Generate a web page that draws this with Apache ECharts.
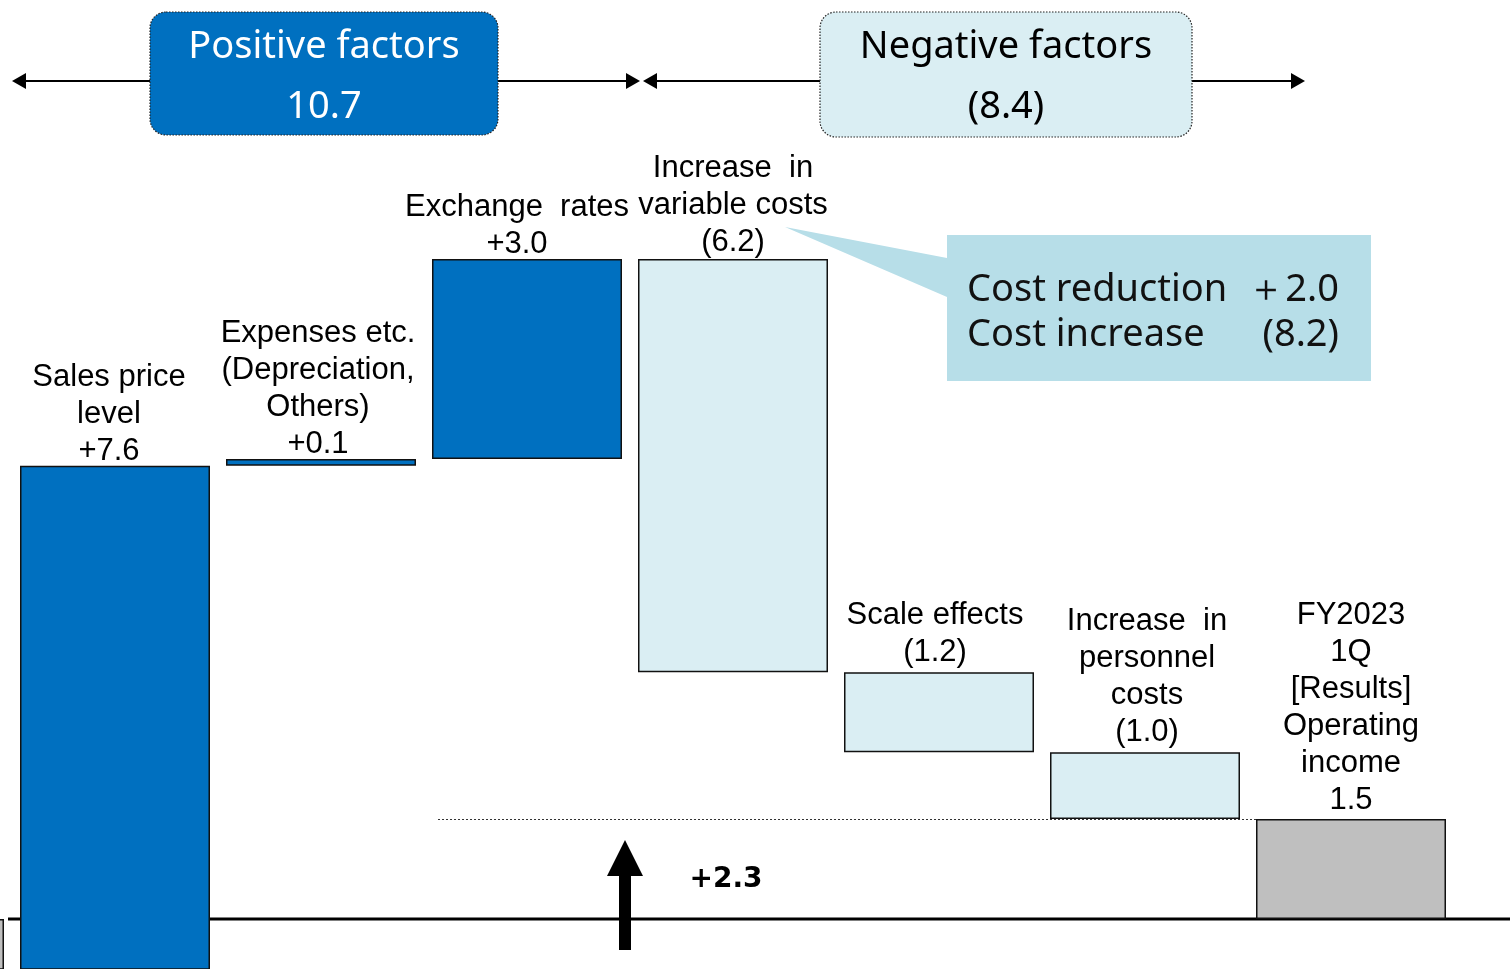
<!DOCTYPE html>
<html>
<head>
<meta charset="utf-8">
<script src="https://cdn.jsdelivr.net/npm/echarts@6/dist/echarts.min.js"></script>
<style>
  html, body { margin: 0; padding: 0; background: #fff; }
  #chart { width: 1510px; height: 969px; }
</style>
</head>
<body>
<div id="chart"></div>
<script>
// data (billion yen)
const categories = ['FY2022 1Q', 'Sales price level', 'Expenses etc.', 'Exchange rates',
  'Increase in variable costs', 'Scale effects', 'Increase in personnel costs', 'FY2023 1Q'];
const startValue = -0.8;
const changes = [7.6, 0.1, 3.0, -6.2, -1.2, -1.0];
const endValue = 1.5;
const labelNames = ['', 'Sales price\nlevel', 'Expenses etc.\n(Depreciation,\nOthers)', 'Exchange  rates',
  'Increase  in\nvariable costs', 'Scale effects', 'Increase  in\npersonnel\ncosts',
  'FY2023\n1Q\n[Results]\nOperating\nincome'];
const positiveTotal = 10.7;
const negativeTotal = -8.4;
const costReduction = 2.0;
const costIncrease = -8.2;
const netChange = 2.3;

const BLUE = '#0070C0', LIGHT = '#DAEEF3', GRAY = '#BFBFBF', EDGE = '#111';
// small nudges so the labels sit like the slide text boxes
const labelOffsets = [[0, 0], [-6, 5], [-3, 5], [-10, 5], [0, 3], [-4, 0], [2, 0], [0, 1]];

function fmt(v) { return v < 0 ? '(' + Math.abs(v).toFixed(1) + ')' : '+' + v.toFixed(1); }

// waterfall: transparent base + visible height
const bases = [0], heights = [startValue], colors = [GRAY], labels = [''];
let run = startValue;
changes.forEach((c, i) => {
  const next = run + c;
  bases.push(c >= 0 ? run : next);
  heights.push(Math.abs(c));
  colors.push(c >= 0 ? BLUE : LIGHT);
  labels.push(labelNames[i + 1] + '\n' + fmt(c));
  run = next;
});
bases.push(0);
heights.push(endValue);
colors.push(GRAY);
labels.push(labelNames[7] + '\n' + endValue.toFixed(1));

const chart = echarts.init(document.getElementById('chart'));
chart.setOption({
  animation: false,
  grid: { left: -194, right: 56, top: 0, bottom: 0, outerBoundsMode: 'none', containLabel: false },
  xAxis: {
    type: 'category', data: categories,
    axisLine: { show: false }, axisTick: { show: false }, axisLabel: { show: false }
  },
  yAxis: { type: 'value', min: -0.75, max: 13.785, show: false, splitLine: { show: false } },
  series: [
    {
      type: 'bar', stack: 'w', stackStrategy: 'all', barWidth: 190,
      itemStyle: { color: 'transparent' }, silent: true,
      data: bases
    },
    {
      type: 'bar', stack: 'w', stackStrategy: 'all', barWidth: 190,
      data: heights.map((h, i) => ({
        value: h,
        itemStyle: { color: colors[i], borderColor: EDGE, borderWidth: 1.5 },
        label: { offset: labelOffsets[i] }
      })),
      label: {
        show: true, position: 'top', distance: 1,
        formatter: p => labels[p.dataIndex],
        fontFamily: 'Liberation Sans', fontSize: 31, lineHeight: 37, color: '#000'
      }
    }
  ]
});

// annotations
const y0 = chart.convertToPixel({ yAxisIndex: 0 }, 0);
const yEnd = Math.round(chart.convertToPixel({ yAxisIndex: 0 }, endValue)) + 0.5;
const boxFont = '38px "Noto Sans"';

function txt(text, x, y, fill, font, align) {
  return {
    type: 'text', x: x, y: y, z: 10,
    style: { text: text, x: 0, y: 0, fill: fill, font: font,
      align: align || 'center', verticalAlign: 'middle',
      textAlign: align || 'center', textVerticalAlign: 'middle' }
  };
}
function hline(x1, x2, y, w, dash, color) {
  return { type: 'line', z: 10, shape: { x1: x1, y1: y, x2: x2, y2: y },
    style: { stroke: color || '#000', lineWidth: w, lineDash: dash || null } };
}
function head(tip, y, dir) {
  return { type: 'polygon', z: 10,
    shape: { points: [[tip, y], [tip + dir * 14, y - 8], [tip + dir * 14, y + 8]] },
    style: { fill: '#000' } };
}

chart.setOption({
  graphic: [
    { type: 'line', z: 0, shape: { x1: 8, y1: y0, x2: 1510, y2: y0 },
      style: { stroke: '#000', lineWidth: 3 } },
    hline(438, 1258, yEnd, 1, [2, 2], '#333'),
    // positive / negative headers
    hline(24, 150, 81, 2), head(12, 81, 1),
    hline(498, 628, 81, 2), head(640, 81, -1),
    hline(655, 820, 81, 2), head(643, 81, 1),
    hline(1192, 1293, 81, 2), head(1305, 81, -1),
    { type: 'rect', z: 10, shape: { x: 150, y: 12, width: 348, height: 123, r: 16 },
      style: { fill: BLUE, stroke: '#222', lineWidth: 1.2, lineDash: [1.5, 1.5] } },
    { type: 'rect', z: 10, shape: { x: 820, y: 12, width: 372, height: 125, r: 16 },
      style: { fill: LIGHT, stroke: '#222', lineWidth: 1.2, lineDash: [1.5, 1.5] } },
    txt('Positive factors', 324, 47, '#fff', boxFont),
    txt(positiveTotal.toFixed(1), 324, 107, '#fff', boxFont),
    txt('Negative factors', 1006, 47, '#000', boxFont),
    txt(fmt(negativeTotal), 1006, 107, '#000', boxFont),
    // cost callout
    { type: 'polygon', z: 9,
      shape: { points: [[947, 235], [1371, 235], [1371, 381], [947, 381], [947, 297], [785, 227], [947, 258]] },
      style: { fill: '#B7DEE8' } },
    txt('Cost reduction', 967, 290, '#111', boxFont, 'left'),
    txt('Cost increase', 967, 335, '#111', boxFont, 'left'),
    txt(fmt(costReduction).replace('+', '＋'), 1339, 290, '#111', boxFont, 'right'),
    txt(fmt(costIncrease), 1339, 335, '#111', boxFont, 'right'),
    // net change arrow
    { type: 'polygon', z: 10,
      shape: { points: [[625, 840], [643, 876], [631, 876], [631, 950], [619, 950], [619, 876], [607, 876]] },
      style: { fill: '#000' } },
    txt(fmt(netChange), 726, 880, '#000', 'bold 28px "DejaVu Sans"')
  ]
});
</script>
</body>
</html>
